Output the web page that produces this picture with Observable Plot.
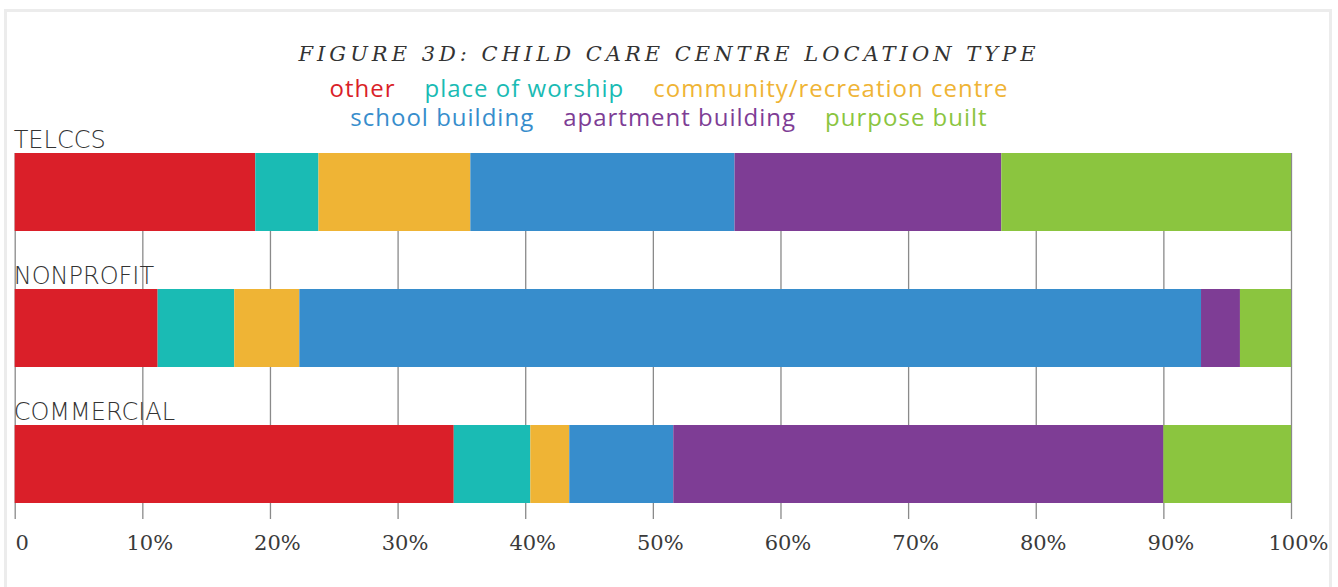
<!DOCTYPE html>
<html>
<head>
<meta charset="utf-8">
<script src="https://cdn.jsdelivr.net/npm/d3@7"></script>
<script src="https://cdn.jsdelivr.net/npm/@observablehq/plot@0.6"></script>
<style>
  html, body { margin: 0; padding: 0; background: #fff; width: 1338px; height: 587px; overflow: hidden; }
  #frame { position: absolute; left: 4px; top: 9px; width: 1322px; height: 700px; border: 3px solid #ececec; box-sizing: content-box; }
  #title { position: absolute; left: 0; top: 42px; width: 1338px; text-align: center; font-family: "DejaVu Serif", serif; font-style: italic; font-size: 21px; letter-spacing: 4px; color: #333; white-space: nowrap; }
  .legend { position: absolute; left: 0; width: 1338px; display: flex; justify-content: center; gap: 29px; font-family: "Open Sans", sans-serif; font-size: 24px; line-height: 26px; letter-spacing: 1px; white-space: nowrap; }
  #leg1 { top: 74.5px; }
  #leg2 { top: 103.5px; }
  #chart { position: absolute; left: 0; top: 120px; }
</style>
</head>
<body>
<div id="frame"></div>
<div id="title">FIGURE 3D: CHILD CARE CENTRE LOCATION TYPE</div>
<div class="legend" id="leg1"></div>
<div class="legend" id="leg2"></div>
<div id="chart"></div>
<script>
const categories = ["TELCCS", "NONPROFIT", "COMMERCIAL"];
const types = ["other", "place of worship", "community/recreation centre", "school building", "apartment building", "purpose built"];
const colors = ["#DA1F29", "#1ABBB4", "#EFB435", "#378DCC", "#7E3D95", "#8BC53F"];
const telccs = [18.85, 4.95, 11.9, 20.7, 20.9, 22.7];
const nonprofit = [11.2, 6.0, 5.1, 70.65, 3.05, 4.0];
const commercial = [34.4, 6.0, 3.05, 8.15, 38.4, 10.0];
const tickValues = [0, 10, 20, 30, 40, 50, 60, 70, 80, 90, 100];
const tickLabels = ["0", "10%", "20%", "30%", "40%", "50%", "60%", "70%", "80%", "90%", "100%"];

const series = [telccs, nonprofit, commercial];
const rows = [];
categories.forEach((c, i) => types.forEach((t, j) => rows.push({category: c, type: t, value: series[i][j]})));

// legend
const legendRows = [types.slice(0, 3), types.slice(3)];
legendRows.forEach((items, r) => {
  const el = document.getElementById(r === 0 ? "leg1" : "leg2");
  items.forEach(t => {
    const s = document.createElement("span");
    s.textContent = t;
    s.style.color = colors[types.indexOf(t)];
    el.appendChild(s);
  });
});

const chart = Plot.plot({
  width: 1338,
  height: 467,
  marginLeft: 14.7,
  marginRight: 47,
  marginTop: 33,
  marginBottom: 68,
  style: {fontFamily: "Open Sans, sans-serif", background: "transparent"},
  x: {domain: [0, 100], axis: null, label: null},
  y: {domain: categories, axis: null, paddingInner: 0.429, paddingOuter: 0.06, align: 0},
  color: {domain: types, range: colors},
  marks: [
    Plot.ruleX(tickValues, {stroke: "#8a8a8a", strokeWidth: 1.3}),
    Plot.barX(rows, Plot.stackX({x: "value", y: "category", fill: "type", order: types})),
    Plot.text(categories, {x: 0, y: d => d, text: d => d, textAnchor: "start", lineAnchor: "bottom", dy: -45, dx: -1.5, fontSize: 24, fontWeight: 200, fontFamily: "DejaVu Sans", fill: "#333", style: "letter-spacing: 2px"}),
    Plot.axisX({ticks: tickValues, tickFormat: (d, i) => tickLabels[i], tickSize: 0, tickPadding: 16, dx: 7, fontSize: 21, fontFamily: "DejaVu Serif", fill: "#3a3a3a", label: null})
  ]
});
document.getElementById("chart").appendChild(chart);
</script>
</body>
</html>
